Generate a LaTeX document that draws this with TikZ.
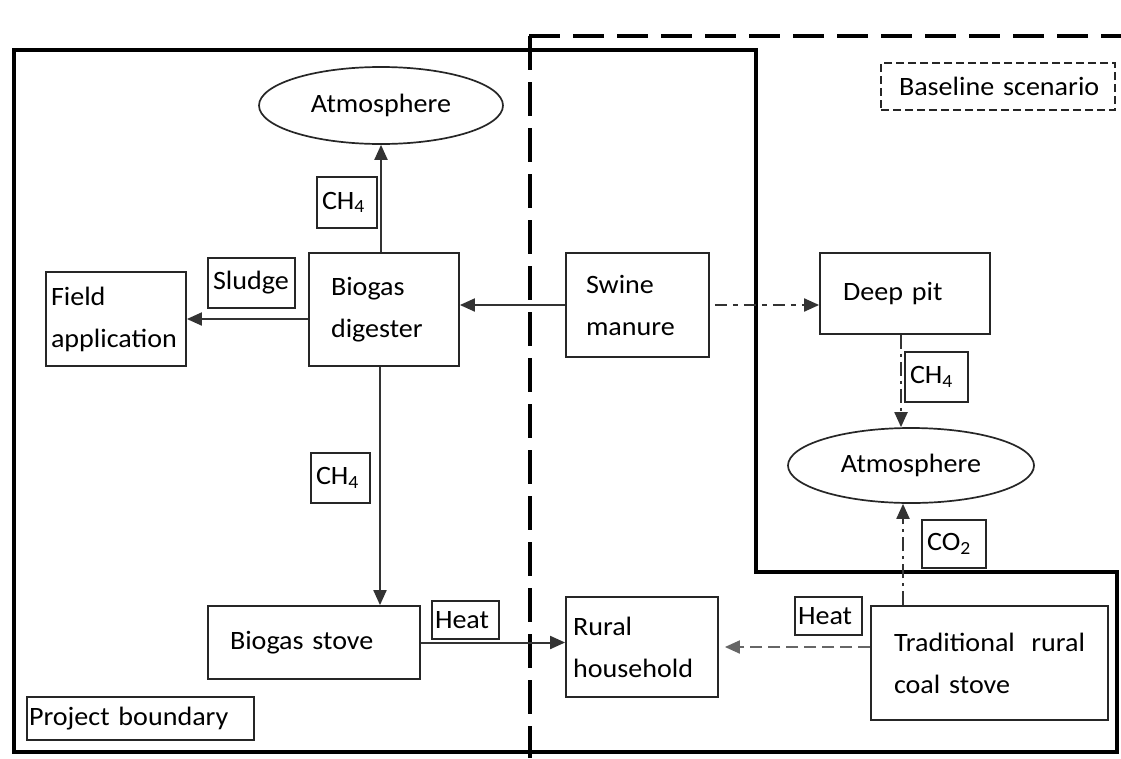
\documentclass[tikz,border=0pt]{standalone}
\usepackage{fontspec}
\setmainfont{Carlito}[FakeStretch=1.06]
\usetikzlibrary{arrows.meta,shapes.geometric}
\begin{document}
\begin{tikzpicture}[x=1pt,y=-1pt,
  every node/.style={font=\fontsize{26.5}{42}\selectfont, text=black},
  procbox/.style={draw=black!85, line width=1.8pt, rectangle, inner sep=0pt, align=left},
  lblbox/.style={draw=black!85, line width=1.5pt, rectangle, inner xsep=5pt, inner ysep=0pt, align=left},
  atmo/.style={draw=black!85, line width=1.7pt, ellipse, inner sep=0pt},
  arr/.style={draw=black!80, line width=2pt, -{Triangle[length=15pt,width=13pt]}},
  dashdotarr/.style={arr, dash pattern=on 14pt off 5pt on 3pt off 5pt},
  dasharr/.style={arr, draw=black!60, dash pattern=on 12pt off 6pt},
  boundary/.style={line width=4.5pt, draw=black},
]
\useasboundingbox (0,0) rectangle (1121,758);
\fill[white] (0,0) rectangle (1121,758);

% boundaries
\draw[boundary, line join=miter] (14,50) -- (756,50) -- (756,572) -- (1117,572) -- (1117,752) -- (14,752) -- cycle;
\draw[line width=4pt, dash pattern=on 31pt off 13pt] (529,36) -- (1121,36);
\draw[line width=3.5pt, dash pattern=on 34pt off 12pt] (530,36) -- (530,758);

% process nodes
\node[atmo, minimum width=244pt, minimum height=77pt] (atmL) at (381,105.5) {Atmosphere};
\node[procbox, minimum width=140pt, minimum height=94pt, text width=130pt] (field) at (116,319) {Field\\application};
\node[procbox, minimum width=150pt, minimum height=113pt, text width=106pt] (digester) at (384,309.5) {Biogas\\digester};
\node[procbox, minimum width=143pt, minimum height=104pt, text width=103pt] (swine) at (637.5,305) {Swine\\manure};
\node[procbox, minimum width=170pt, minimum height=81pt, text width=124pt] (deeppit) at (905,293.5) {Deep pit};
\node[atmo, minimum width=246pt, minimum height=75pt] (atmR) at (911,465.5) {Atmosphere};
\node[procbox, minimum width=212pt, minimum height=73pt, text width=168pt] (stove) at (314,642.5) {Biogas stove};
\node[procbox, minimum width=152pt, minimum height=100pt, text width=138pt] (rural) at (642,647) {Rural\\household};
\node[procbox, minimum width=237pt, minimum height=114pt, text width=191pt] (coal) at (989.5,663) {Traditional\hfill rural\\coal stove};

% label boxes
\node[lblbox, minimum width=60pt, minimum height=51pt, text width=50pt] (ch4a) at (347,202.5) {CH\textsubscript{4}};
\node[lblbox, minimum width=87pt, minimum height=50pt, text width=77pt] (sludge) at (251.5,283) {Sludge};
\node[lblbox, minimum width=59pt, minimum height=50pt, text width=49pt] (ch4b) at (340.5,478) {CH\textsubscript{4}};
\node[lblbox, minimum width=63pt, minimum height=50pt, text width=53pt] (ch4c) at (936.5,377) {CH\textsubscript{4}};
\node[lblbox, minimum width=64pt, minimum height=48pt, text width=54pt] (co2) at (954,544) {CO\textsubscript{2}};
\node[lblbox, minimum width=67pt, minimum height=38pt, text width=61pt, inner xsep=3pt] (heatL) at (465.5,620) {Heat};
\node[lblbox, minimum width=67pt, minimum height=38pt, text width=61pt, inner xsep=3pt] (heatR) at (828.5,616) {Heat};
\node[lblbox, minimum width=227pt, minimum height=43pt, text width=223pt, inner xsep=2pt] (projb) at (140.5,718.5) {Project boundary};
\node[lblbox, dashed, dash pattern=on 8pt off 4pt, minimum width=234pt, minimum height=47pt, text width=216pt, inner xsep=9pt] (baseb) at (998,86.5) {\hspace*{9pt}Baseline scenario};

% connectors
\draw[arr] (digester.north -| atmL.south) -- (atmL.south);
\draw[arr] (digester.west |- field.east) -- (field.east);
\draw[arr] (swine.west) -- (swine.west -| digester.east);
\draw[arr] ([xshift=-4pt]digester.south) -- ([xshift=-4pt]digester.south |- stove.north);
\draw[arr] (stove.east) -- (stove.east -| rural.west);
\draw[dashdotarr, dash pattern=on 12pt off 6pt on 5pt off 6pt] ([xshift=5pt]swine.east) -- (swine.east -| deeppit.west);
\draw[dashdotarr] ([xshift=-4pt]deeppit.south) -- ([xshift=-4pt]deeppit.south |- atmR.north);
\draw[dashdotarr] ([xshift=-8pt]atmR.south |- coal.north) -- ([xshift=-8pt]atmR.south);
\draw[dasharr, shorten >=6pt] (coal.west |- rural.east) -- (rural.east);
\end{tikzpicture}
\end{document}
